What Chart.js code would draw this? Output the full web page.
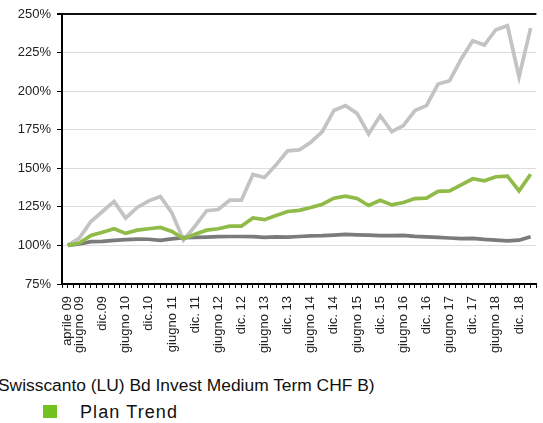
<!DOCTYPE html>
<html>
<head>
<meta charset="utf-8">
<script src="https://cdn.jsdelivr.net/npm/chart.js@4.4.1/dist/chart.umd.min.js"></script>
<style>
  html, body { margin: 0; padding: 0; background: #fff; overflow: hidden; width: 543px; height: 423px; }
  #wrap { position: absolute; left: 0; top: 0; }
  .legend { position: absolute; font-family: "Liberation Sans", Arial, sans-serif; color: #111; white-space: nowrap; line-height: 20px; }
  .swatch { position: absolute; left: 43px; top: 405px; width: 14px; height: 13px; background: #74c21f; }
</style>
</head>
<body>
<div id="wrap"><canvas id="perfChart" width="560" height="360"></canvas></div>
<div class="legend" style="left:-2px; top:375px; font-size:17.4px;">Swisscanto (LU) Bd Invest Medium Term CHF B)</div>
<div class="swatch"></div>
<div class="legend" style="left:80px; top:402px; font-size:18px; letter-spacing:1.1px;">Plan Trend</div>
<script>
// quarterly points, aprile 09 .. marzo 19
const quarterLabels = [
    'aprile 09', 'giugno 09', '', 'dic.09', '', 'giugno 10', '', 'dic.10', '', 'giugno 11',
    '', 'dic. 11', '', 'giugno 12', '', 'dic. 12', '', 'giugno 13', '', 'dic. 13',
    '', 'giugno 14', '', 'dic. 14', '', 'giugno 15', '', 'dic. 15', '', 'giugno 16',
    '', 'dic. 16', '', 'giugno 17', '', 'dic. 17', '', 'giugno 18', '', 'dic. 18', ''
];

const planTrend = [
    100, 101.5, 106.5, 108.6, 110.8, 107.8, 109.9, 110.8, 111.7, 109.1,
    104.3, 107.3, 109.9, 110.8, 112.5, 112.5, 117.8, 116.7, 119.4, 122.0,
    122.7, 124.6, 126.7, 130.6, 131.9, 130.4, 125.9, 129.3, 126.3, 127.8,
    130.4, 130.6, 135.0, 135.4, 139.3, 143.2, 141.9, 144.5, 144.9, 135.4, 146.1
];

const bondFund = [
    100, 100.9, 102.5, 102.6, 103.3, 103.8, 104.1, 104.0, 103.3, 104.2,
    105.0, 105.2, 105.4, 105.7, 105.8, 105.8, 105.7, 105.2, 105.6, 105.4,
    105.8, 106.2, 106.3, 106.7, 107.1, 106.9, 106.7, 106.3, 106.3, 106.5,
    105.9, 105.5, 105.2, 104.8, 104.4, 104.6, 103.9, 103.5, 103.0, 103.4, 105.6
];

const equityFund = [
    100, 104.7, 115.5, 122.0, 128.5, 117.7, 124.6, 128.9, 131.7, 121.0,
    103.5, 112.5, 122.5, 123.3, 129.3, 129.3, 146.0, 144.0, 152.2, 161.3,
    161.9, 166.9, 173.8, 187.5, 190.6, 185.6, 172.3, 184.1, 173.8, 177.7,
    187.4, 190.6, 204.6, 206.8, 220.8, 232.7, 229.9, 239.8, 242.4, 209.2, 240.8
];

const yTicks = [75, 100, 125, 150, 175, 200, 225, 250];

const toPoints = arr => arr.map((v, i) => ({ x: i, y: v }));

const ctx = document.getElementById('perfChart').getContext('2d');
const chart = new Chart(ctx, {
    type: 'line',
    data: {
        datasets: [
            { label: 'Plan Trend', data: toPoints(planTrend), borderColor: '#90bb48', borderWidth: 3.7, pointRadius: 0, tension: 0 },
            { label: 'Bond', data: toPoints(bondFund), borderColor: '#7b7b7b', borderWidth: 3.7, pointRadius: 0, tension: 0 },
            { label: 'Equity', data: toPoints(equityFund), borderColor: '#c3c3c3', borderWidth: 3.7, pointRadius: 0, tension: 0 }
        ]
    },
    options: {
        responsive: false, animation: false,
        layout: { padding: { top: 14, right: 12, left: 0, bottom: 0 } },
        plugins: { legend: { display: false }, tooltip: { enabled: false } },
        scales: {
            x: {
                type: 'linear', min: -0.5, max: 40.5,
                afterBuildTicks: scale => {
                    const t = [];
                    for (let v = -0.5; v <= 40.5; v += 0.5) t.push({ value: v });
                    scale.ticks = t;
                },
                afterFit: scale => { scale.height = 76; },
                border: { color: '#000', width: 2 },
                grid: { drawOnChartArea: false, drawTicks: true, tickLength: 4, tickColor: '#000', lineWidth: 1 },
                ticks: {
                    autoSkip: false, minRotation: 90, maxRotation: 90, padding: 8,
                    color: '#222', font: { family: '"Liberation Sans", Arial, sans-serif', size: 13 },
                    callback: value => Number.isInteger(value) ? (quarterLabels[value] || '') : ''
                }
            },
            y: {
                min: 75, max: 250,
                afterBuildTicks: scale => { scale.ticks = yTicks.map(v => ({ value: v })); },
                afterFit: scale => { scale.width = 62; },
                border: { color: '#000', width: 2 },
                grid: {
                    color: c => c.tick && c.tick.value === 250 ? '#111' : '#dcdcdc',
                    lineWidth: c => c.tick && c.tick.value === 250 ? 2 : 1,
                    tickColor: '#000', tickLength: 5
                },
                ticks: {
                    padding: 6, color: '#222',
                    font: { family: '"Liberation Sans", Arial, sans-serif', size: 13 },
                    callback: value => value + '%'
                }
            }
        }
    }
});
</script>
</body>
</html>
